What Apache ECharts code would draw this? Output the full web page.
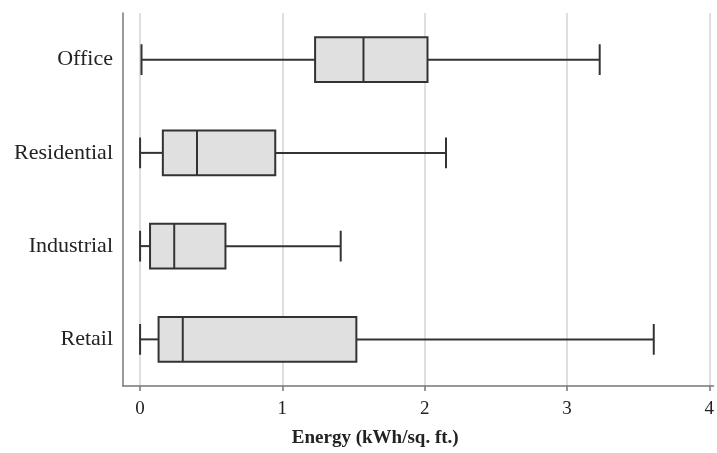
<!DOCTYPE html>
<html>
<head>
<meta charset="utf-8">
<script src="https://cdn.jsdelivr.net/npm/echarts@6/dist/echarts.min.js"></script>
<style>
  html, body { margin: 0; padding: 0; background: #fff; }
  #chart { width: 717px; height: 453px; }
</style>
</head>
<body>
<div id="chart"></div>
<script>
// 类别（自上而下）
const categories = ['Office', 'Residential', 'Industrial', 'Retail'];
// 五数概括：最小值、下四分位、中位数、上四分位、最大值
const minValues    = [0.01, 0.00, 0.00, 0.00];
const q1Values     = [1.23, 0.16, 0.07, 0.13];
const medianValues = [1.57, 0.40, 0.24, 0.30];
const q3Values     = [2.02, 0.95, 0.60, 1.52];
const maxValues    = [3.23, 2.15, 1.41, 3.61];
const xTicks = [0, 1, 2, 3, 4];

document.addEventListener('DOMContentLoaded', function() {
    initBoxChart();
});

function initBoxChart() {
    const el = document.getElementById('chart');
    echarts.dispose(el);
    const chart = echarts.init(el);

    const data = categories.map((c, i) => [i, minValues[i], q1Values[i], medianValues[i], q3Values[i], maxValues[i]]);

    const font = 'Liberation Serif, Times New Roman, serif';

    // 自定义箱线图：须线端帽比箱体短
    function renderBox(params, api) {
        const idx = api.value(0);
        const pMin = api.coord([api.value(1), idx]);
        const pQ1 = api.coord([api.value(2), idx]);
        const pMed = api.coord([api.value(3), idx]);
        const pQ3 = api.coord([api.value(4), idx]);
        const pMax = api.coord([api.value(5), idx]);
        const band = api.size([0, 1])[1];
        const boxH = band * 0.48;
        const capH = band * 0.33;
        const y = pMed[1];
        const stroke = { stroke: '#333', lineWidth: 2, fill: null };
        return {
            type: 'group',
            children: [
                { type: 'line', shape: { x1: pMin[0], y1: y, x2: pQ1[0], y2: y }, style: stroke },
                { type: 'line', shape: { x1: pQ3[0], y1: y, x2: pMax[0], y2: y }, style: stroke },
                { type: 'line', shape: { x1: pMin[0], y1: y - capH / 2, x2: pMin[0], y2: y + capH / 2 }, style: stroke },
                { type: 'line', shape: { x1: pMax[0], y1: y - capH / 2, x2: pMax[0], y2: y + capH / 2 }, style: stroke },
                { type: 'rect', shape: { x: pQ1[0], y: y - boxH / 2, width: pQ3[0] - pQ1[0], height: boxH },
                  style: { fill: '#e0e0e0', stroke: '#333', lineWidth: 2 } },
                { type: 'line', shape: { x1: pMed[0], y1: y - boxH / 2, x2: pMed[0], y2: y + boxH / 2 }, style: stroke }
            ]
        };
    }

    const option = {
        animation: false,
        grid: {
            left: 123,
            right: 1,
            top: 13,
            bottom: 66
        },
        xAxis: {
            type: 'value',
            min: -0.12,
            max: 4.03,
            name: 'Energy (kWh/sq. ft.)',
            nameLocation: 'middle',
            nameGap: 43,
            nameTextStyle: {
                fontFamily: font,
                fontWeight: 'bold',
                fontSize: 19,
                color: '#222',
                padding: [0, 86, 0, 0]
            },
            axisLine: { show: true, lineStyle: { color: '#777', width: 1.5 } },
            axisTick: { show: true, length: 5, customValues: xTicks, lineStyle: { color: '#777', width: 1.5 } },
            axisLabel: {
                customValues: xTicks,
                fontFamily: font,
                fontSize: 19,
                color: '#222',
                margin: 14
            },
            splitLine: { show: true, lineStyle: { color: '#d4d4d4', width: 1.5 } }
        },
        yAxis: {
            type: 'category',
            data: categories,
            inverse: true,
            axisLine: { show: true, onZero: false, lineStyle: { color: '#777', width: 1.5 } },
            axisTick: { show: false },
            axisLabel: {
                fontFamily: font,
                fontSize: 22,
                color: '#222',
                margin: 10
            },
            splitLine: { show: false }
        },
        series: [{
            type: 'custom',
            renderItem: renderBox,
            encode: { x: [1, 2, 3, 4, 5], y: 0 },
            data: data
        }]
    };

    chart.setOption(option);
    window.addEventListener('resize', function() {
        chart.resize();
    });
}
</script>
</body>
</html>
